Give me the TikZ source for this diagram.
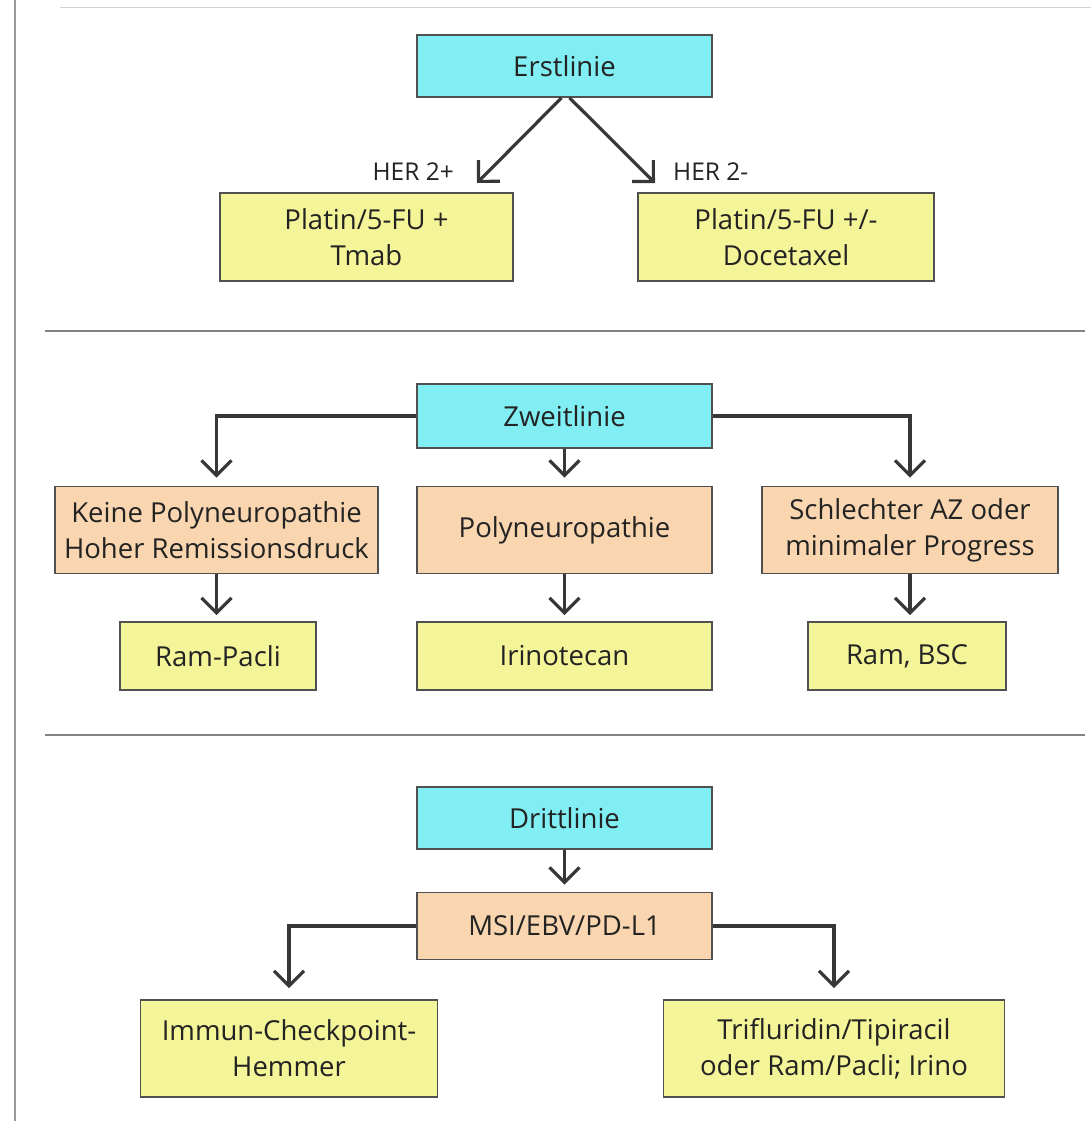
\documentclass[tikz,border=0pt]{standalone}
\usepackage{fontspec}
\setmainfont{Open Sans}
\usetikzlibrary{arrows.meta,calc}
\definecolor{cyanfill}{RGB}{128,238,242}
\definecolor{peachfill}{RGB}{249,214,176}
\definecolor{yellowfill}{RGB}{244,244,152}
\definecolor{framegray}{RGB}{80,80,80}
\definecolor{arrgray}{RGB}{55,55,55}
\definecolor{txtgray}{RGB}{35,35,35}
\definecolor{sepgray}{RGB}{130,130,130}
\tikzset{
  box/.style={draw=framegray, line width=1.6pt, inner sep=0pt, align=center,
    text=txtgray, font=\fontsize{27.5}{36}\selectfont},
  cyanbox/.style={box, fill=cyanfill},
  peachbox/.style={box, fill=peachfill},
  yelbox/.style={box, fill=yellowfill},
  arr/.style={draw=arrgray, line width=3.2pt,
    -{Straight Barb[length=15pt,width=30pt,line width=3.2pt]}},
  lbl/.style={text=txtgray, font=\fontsize{24.5}{28}\selectfont, inner sep=0pt},
  sep/.style={draw=sepgray, line width=1.3pt}
}
\begin{document}
\begin{tikzpicture}[x=1pt,y=-1pt]
\path[use as bounding box, fill=white] (0,0) rectangle (1091,1121);
% frame lines
\draw[draw=sepgray!80, line width=1.2pt] (15,0) -- (15,1121);
\draw[draw=sepgray!35, line width=1pt] (60,8) -- (1091,8);
\draw[sep] (45,331) -- (1085,331);
\draw[sep] (45,735) -- (1085,735);

% ---- Erstlinie ----
\node[cyanbox, minimum width=295pt, minimum height=62pt] (erst) at (564.5,66) {Erstlinie};
\node[yelbox, minimum width=293pt, minimum height=88pt] (p1) at (366.5,237) {Platin/5-FU +\\Tmab};
\node[yelbox, minimum width=296pt, minimum height=88pt] (p2) at (786,237) {Platin/5-FU +/-\\Docetaxel};
\coordinate (t1) at (477,183);
\coordinate (t2) at (655,183);
\draw[arr] ([xshift=-3pt]erst.south) -- (t1);
\draw[arr] ([xshift=5pt]erst.south) -- (t2);
\node[lbl, anchor=base east] (her1) at (454,180) {HER 2+};
\node[lbl, anchor=base west] (her2) at (673,180) {HER 2-};

% ---- Zweitlinie ----
\node[cyanbox, minimum width=295pt, minimum height=64pt] (zweit) at (564.5,416) {Zweitlinie};
\node[peachbox, minimum width=323pt, minimum height=87pt] (o1) at (216.5,530) {Keine Polyneuropathie\\Hoher Remissionsdruck};
\node[peachbox, minimum width=295pt, minimum height=87pt] (o2) at (564.5,530) {Polyneuropathie};
\node[peachbox, minimum width=296pt, minimum height=87pt] (o3) at (910,530) {Schlechter AZ oder\\minimaler Progress};
\node[yelbox, minimum width=196pt, minimum height=68pt] (y1) at (218,656) {Ram-Pacli};
\node[yelbox, minimum width=295pt, minimum height=68pt] (y2) at (564.5,656) {Irinotecan};
\node[yelbox, minimum width=198pt, minimum height=68pt] (y3) at (907,656) {Ram, BSC};
\draw[arr, shorten >=8pt] (zweit.west) -| (o1.north);
\draw[arr, shorten >=8pt] (zweit.east) -| (o3.north);
\draw[arr, shorten >=8pt] (zweit.south) -- (o2.north);
\draw[arr, shorten >=6pt] (o1.south) -- (o1.south |- y1.north);
\draw[arr, shorten >=6pt] (o2.south) -- (y2.north);
\draw[arr, shorten >=6pt] (o3.south) -- (o3.south |- y3.north);

% ---- Drittlinie ----
\node[cyanbox, minimum width=295pt, minimum height=62pt] (dritt) at (564.5,818) {Drittlinie};
\node[peachbox, minimum width=295pt, minimum height=67pt] (msi) at (564.5,926) {MSI/EBV/PD-L1};
\node[yelbox, minimum width=297pt, minimum height=97pt] (z1) at (289,1048.5) {Immun-Checkpoint-\\Hemmer};
\node[yelbox, minimum width=341pt, minimum height=97pt] (z2) at (834,1048.5) {Trifluridin/Tipiracil\\oder Ram/Pacli; Irino};
\draw[arr, shorten >=7pt] (dritt.south) -- (msi.north);
\draw[arr, shorten >=11pt] (msi.west) -| (z1.north);
\draw[arr, shorten >=11pt] (msi.east) -| (z2.north);
\end{tikzpicture}
\end{document}
